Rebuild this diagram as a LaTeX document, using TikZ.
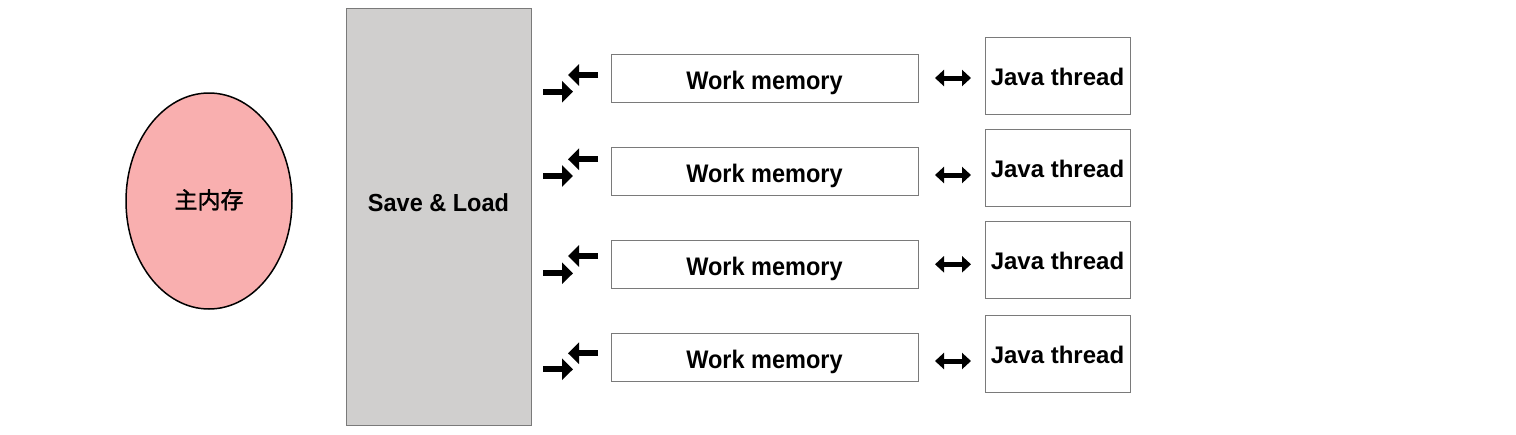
\documentclass[tikz,border=0pt]{standalone}
\usepackage{graphicx}
\usepackage{fontspec}
\setmainfont{Liberation Sans}
\newfontfamily\cjk[FakeBold=1.5]{Noto Sans CJK SC}
\usetikzlibrary{arrows.meta,shapes.geometric}
\definecolor{memfill}{HTML}{F9AFAF}
\definecolor{slfill}{HTML}{D0CFCE}
\definecolor{boxline}{HTML}{7A7A7A}
\tikzset{
  wm/.style={draw=boxline, line width=1pt, fill=white, minimum width=307pt, minimum height=48pt, inner sep=0pt, text height=22pt, text depth=0pt, font=\fontsize{23.5}{26}\selectfont\bfseries},
  jt/.style={draw=boxline, line width=1pt, fill=white, minimum width=145pt, minimum height=77pt, inner sep=0pt, text height=20.4pt, text depth=0pt, font=\fontsize{24}{27}\selectfont\bfseries},
  flow/.style={line width=6pt, -{Triangle[length=11pt,width=21pt]}},
  dbl/.style={line width=5pt, {Triangle[length=9pt,width=16pt]}-{Triangle[length=9pt,width=16pt]}}
}
\begin{document}
\begin{tikzpicture}[x=1pt,y=-1pt]
\useasboundingbox (0,0) rectangle (1516,434);
\node[ellipse, draw=black, line width=1.5pt, fill=memfill, minimum width=166pt, minimum height=216pt, inner sep=0pt, text height=15pt, text depth=0pt, font=\fontsize{23}{26}\selectfont\cjk] (mem) at (209,201) {主内存};
\node[draw=boxline, line width=1pt, fill=slfill, minimum width=185pt, minimum height=417pt, inner sep=0pt, text height=0pt, text depth=11pt, font=\fontsize{23.5}{26}\selectfont\bfseries] (sl) at (438.5,216.5) {\scalebox{1}[1.05]{Save \& Load}};
\foreach \i/\wy/\jy/\ly/\ry/\dy in {1/78/75.5/75/91.7/78, 2/171/167.5/159.3/176/175, 3/264/259.5/256/273.3/264.3, 4/357/353.5/353.3/369.3/361}{
  \node[wm] (wm\i) at (764.5,\wy) {\scalebox{1}[1.08]{Work memory}};
  \node[jt] (jt\i) at (1057.5,\jy) {Java thread};
  \coordinate (ra\i) at (543,\ry);
  \coordinate (rb\i) at (573,\ry);
  \coordinate (la\i) at (598,\ly);
  \coordinate (lb\i) at (568,\ly);
  \coordinate (da\i) at (935,\dy);
  \coordinate (db\i) at (971,\dy);
  \draw[flow] (ra\i) -- (rb\i);
  \draw[flow] (la\i) -- (lb\i);
  \draw[dbl] (da\i) -- (db\i);
}
\end{tikzpicture}
\end{document}
